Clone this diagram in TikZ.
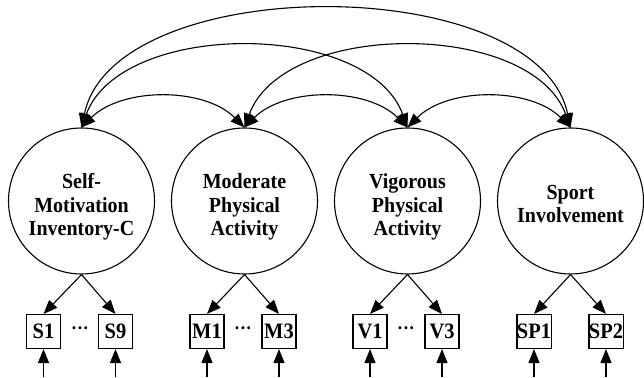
\documentclass[tikz,border=0pt]{standalone}
\usepackage{fontspec}
\setmainfont{Liberation Serif}[FakeStretch=0.93]
\usetikzlibrary{arrows.meta}

\begin{document}
\begin{tikzpicture}[
  x=1pt, y=1pt,
  latent/.style={draw, circle, minimum size=146pt, inner sep=0pt, line width=1.1pt},
  ftext/.style={align=center, inner sep=0pt, yshift=#1, font=\fontsize{21.5}{23.5}\selectfont\bfseries},
  indic/.style={draw, minimum size=34pt, inner sep=0pt, line width=1.1pt, font=\fontsize{22}{23.5}\selectfont\bfseries},
  gap/.style={anchor=base, inner sep=0pt, font=\fontsize{19}{19}\selectfont\bfseries},
  arr/.style={-{Triangle[length=14pt, width=11pt]}, line width=1.1pt},
  cov/.style={{Triangle[length=14pt, width=11pt]}-{Triangle[length=14pt, width=11pt]}, line width=1.1pt}
]
\useasboundingbox (0,0) rectangle (644,377);

% ── Latent factors ──
\node[latent, label={[ftext=-6pt]center:Self-\\Motivation\\Inventory-C}] (smi) at (81.5,176) {};
\node[latent, label={[ftext=-6pt]center:Moderate\\Physical\\Activity}] (mpa) at (244.5,176) {};
\node[latent, label={[ftext=-6pt]center:Vigorous\\Physical\\Activity}] (vpa) at (407.5,176) {};
\node[latent, label={[ftext=-3pt]center:Sport\\Involvement}] (spi) at (570.5,176) {};

% ── Indicators ──
\node[indic] (s1) at (43.5,45.5) {S1};
\node[indic] (s9) at (115.5,45.5) {S9};
\node[indic] (m1) at (207,45.5) {M1};
\node[indic] (m3) at (279,45.5) {M3};
\node[indic] (v1) at (370,45.5) {V1};
\node[indic] (v3) at (442,45.5) {V3};
\node[indic] (sp1) at (534,45.5) {SP1};
\node[indic] (sp2) at (606,45.5) {SP2};

% omitted items
\node[gap] (sdots) at (80,42.5) {···};
\node[gap] (mdots) at (243,42.5) {···};
\node[gap] (vdots) at (406,42.5) {···};

% error terms (free ends)
\coordinate (es1) at (43.5,0);
\coordinate (es9) at (115.5,0);
\coordinate (em1) at (207,0);
\coordinate (em3) at (279,0);
\coordinate (ev1) at (370,0);
\coordinate (ev3) at (442,0);
\coordinate (esp1) at (534,0);
\coordinate (esp2) at (606,0);

% ═══ ARROWS ═══
% Covariances between factors
\draw[cov] (smi.north) to[out=45, in=135, looseness=0.9] (mpa.north);
\draw[cov] (mpa.north) to[out=45, in=135, looseness=0.9] (vpa.north);
\draw[cov] (vpa.north) to[out=45, in=135, looseness=0.9] (spi.north);
\draw[cov] (smi.north) to[out=70, in=110, looseness=0.9] (vpa.north);
\draw[cov] (mpa.north) to[out=70, in=110, looseness=0.9] (spi.north);
\draw[cov] (smi.north) to[out=78, in=102, looseness=0.84] (spi.north);

% Factor loadings
\draw[arr] (smi.south) -- (s1.north);
\draw[arr] (smi.south) -- (s9.north);
\draw[arr] (mpa.south) -- (m1.north);
\draw[arr] (mpa.south) -- (m3.north);
\draw[arr] (vpa.south) -- (v1.north);
\draw[arr] (vpa.south) -- (v3.north);
\draw[arr] (spi.south) -- (sp1.north);
\draw[arr] (spi.south) -- (sp2.north);

% Error terms
\draw[arr] (es1) -- (s1);
\draw[arr] (es9) -- (s9);
\draw[arr] (em1) -- (m1);
\draw[arr] (em3) -- (m3);
\draw[arr] (ev1) -- (v1);
\draw[arr] (ev3) -- (v3);
\draw[arr] (esp1) -- (sp1);
\draw[arr] (esp2) -- (sp2);

\end{tikzpicture}
\end{document}
